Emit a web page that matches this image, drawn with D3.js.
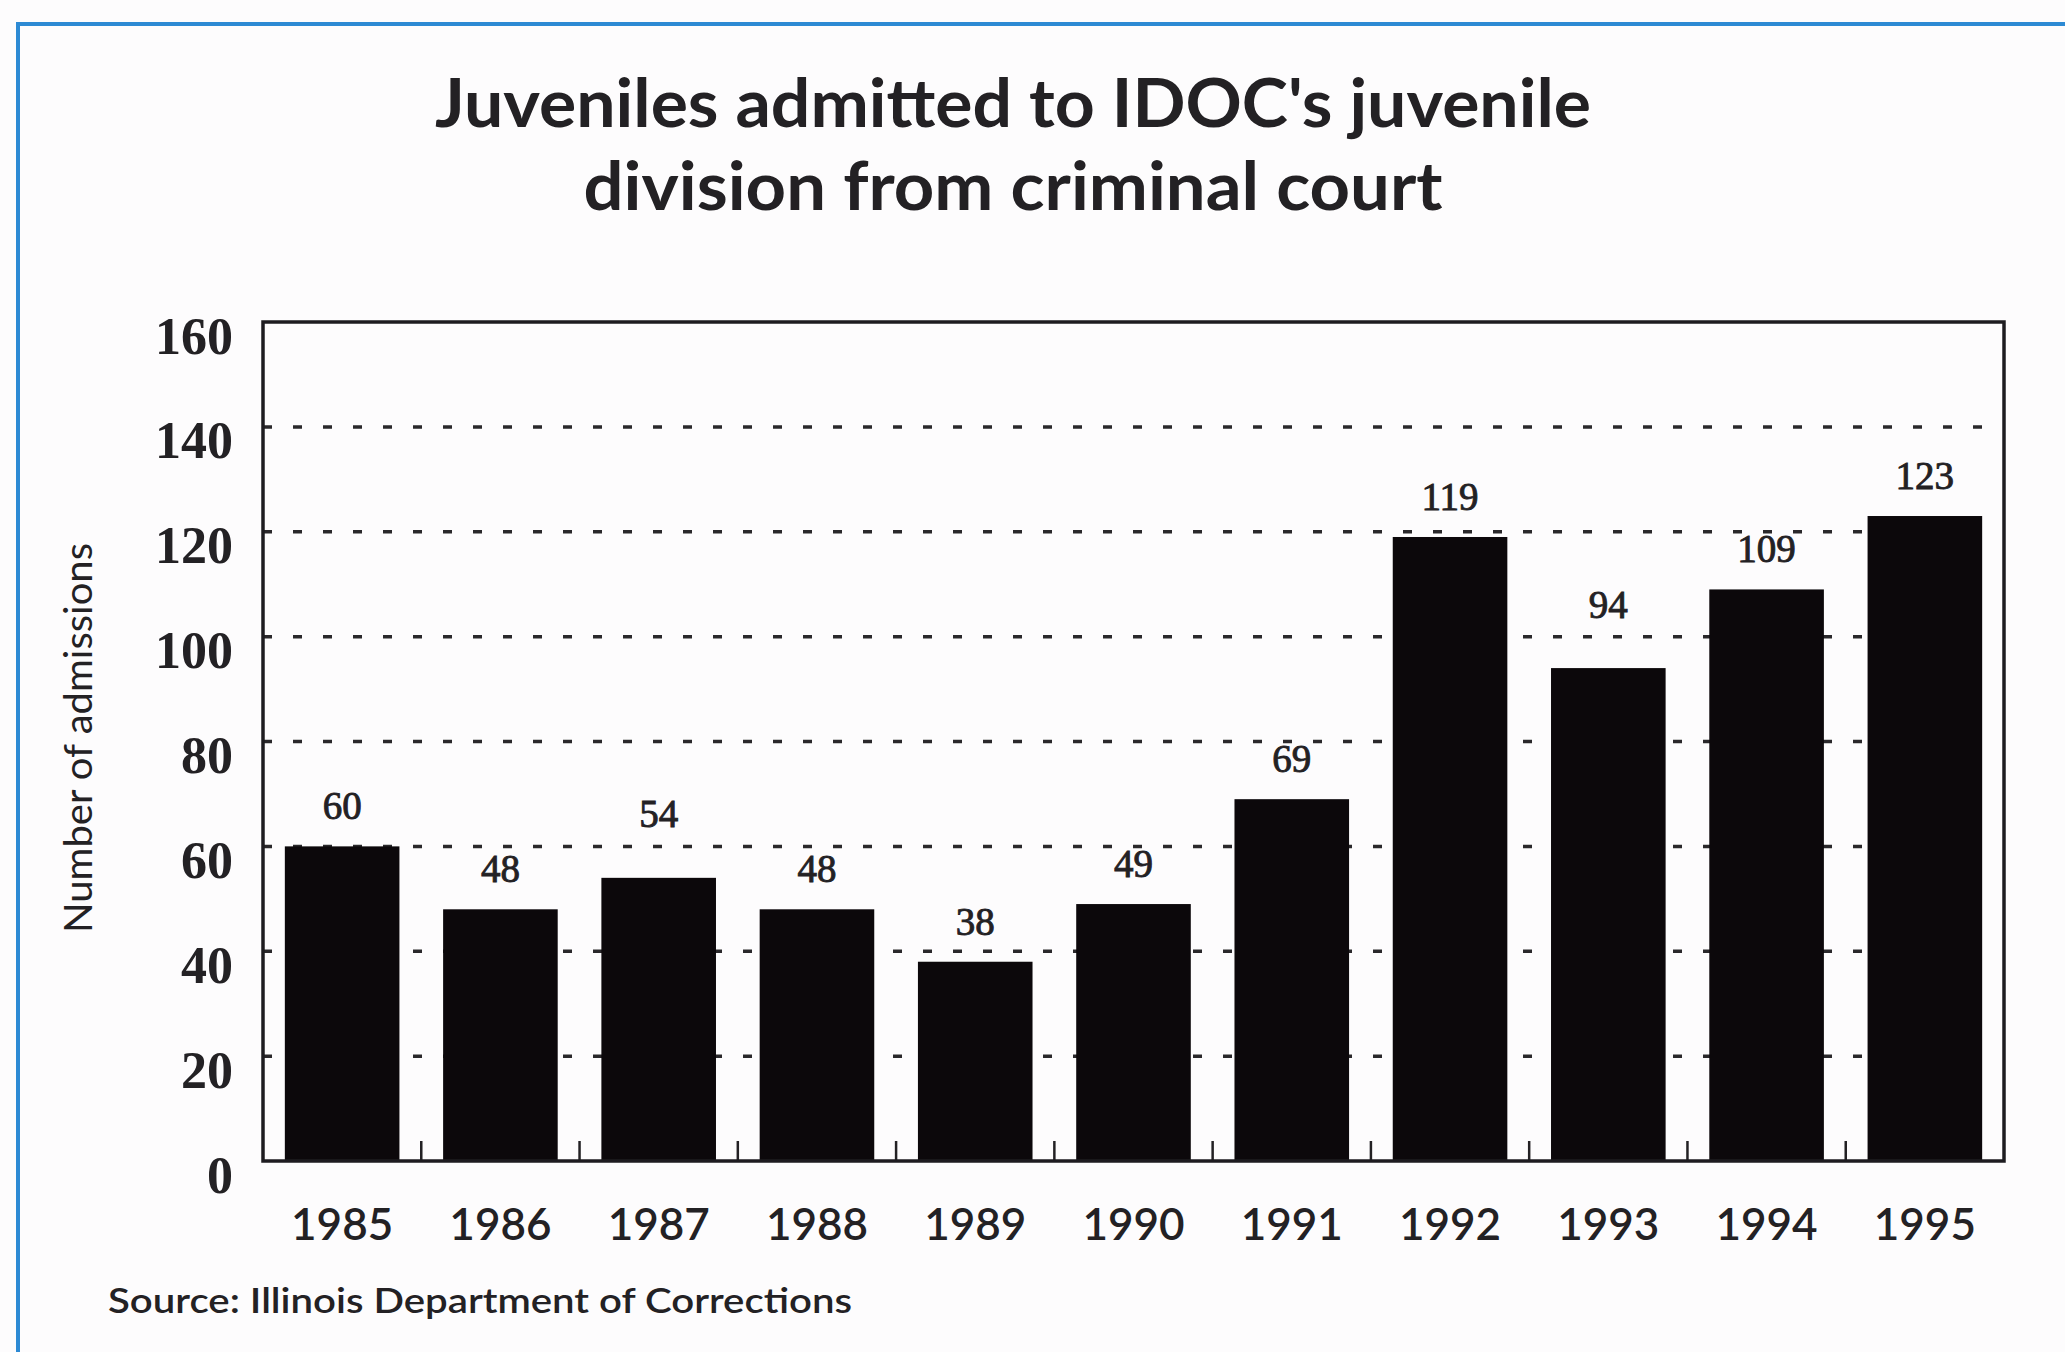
<!DOCTYPE html>
<html>
<head>
<meta charset="utf-8">
<script src="https://cdn.jsdelivr.net/npm/d3@7"></script>
<style>
  html, body { margin: 0; padding: 0; background: #fdfcfd; }
  svg { display: block; }
</style>
</head>
<body>
<svg id="chart" width="2065" height="1352"></svg>
<script>
// Juvenile admissions from criminal court, by year
const years = ["1985", "1986", "1987", "1988", "1989", "1990", "1991", "1992", "1993", "1994", "1995"];
const admissions = [60, 48, 54, 48, 38, 49, 69, 119, 94, 109, 123];
const yTicks = [0, 20, 40, 60, 80, 100, 120, 140, 160];
const gridValues = [20, 40, 60, 80, 100, 120, 140];
const titleLines = ["Juveniles admitted to IDOC's juvenile", "division from criminal court"];
const yTitle = "Number of admissions";
const sourceNote = "Source: Illinois Department of Corrections";

const W = 2065, H = 1352;
const plot = { left: 263, right: 2004, top: 322, bottom: 1161 };
const ink = "#232124";
const sans = "'Lato', 'Open Sans', sans-serif";
const serif = "'Liberation Serif', 'Times New Roman', serif";

const svg = d3.select("#chart");

svg.append("rect").attr("width", W).attr("height", H).attr("fill", "#fdfcfd");

// blue page frame (top and left edges)
svg.append("path")
  .attr("d", `M18,${H} L18,24 L${W},24`)
  .attr("fill", "none")
  .attr("stroke", "#2d8ad4")
  .attr("stroke-width", 4);

// title
svg.append("g")
  .selectAll("text")
  .data(titleLines)
  .join("text")
  .attr("x", 1013)
  .attr("y", (d, i) => 127 + i * 83)
  .attr("text-anchor", "middle")
  .attr("font-family", sans)
  .attr("font-weight", 700)
  .attr("font-size", 66)
  .attr("fill", ink)
  .attr("textLength", (d, i) => [1156, 859][i])
  .attr("lengthAdjust", "spacingAndGlyphs")
  .text(d => d);

const x = d3.scaleBand()
  .domain(years)
  .range([plot.left, plot.right])
  .paddingInner(0.276)
  .paddingOuter(0.138);

const y = d3.scaleLinear()
  .domain([0, 160])
  .range([plot.bottom, plot.top]);

// dashed gridlines
svg.append("g")
  .selectAll("line")
  .data(gridValues)
  .join("line")
  .attr("x1", plot.left)
  .attr("x2", plot.right - 16)
  .attr("y1", d => y(d))
  .attr("y2", d => y(d))
  .attr("stroke", "#2a282b")
  .attr("stroke-width", 3.5)
  .attr("stroke-dasharray", "9 21");

// bars
svg.append("g")
  .selectAll("rect")
  .data(admissions)
  .join("rect")
  .attr("x", (d, i) => x(years[i]))
  .attr("y", d => y(d))
  .attr("width", x.bandwidth())
  .attr("height", d => y(0) - y(d))
  .attr("fill", "#0c080b");

// value labels sit above each bar; a label that would sit on a gridline
// is lifted clear above that line
const labelGap = 27, labelHeight = 27;
function labelBaseline(v) {
  let base = y(v) - labelGap;
  for (const g of gridValues) {
    const gy = y(g);
    if (gy > base - labelHeight && gy < base + 3) base = gy - 19;
  }
  return base;
}
svg.append("g")
  .selectAll("text")
  .data(admissions)
  .join("text")
  .attr("x", (d, i) => x(years[i]) + x.bandwidth() / 2)
  .attr("y", d => labelBaseline(d))
  .attr("text-anchor", "middle")
  .attr("font-family", serif)
  .attr("font-size", 39)
  .attr("fill", ink)
  .attr("stroke", ink)
  .attr("stroke-width", 0.9)
  .text(d => d);

// small ticks between the year bands
const step = x.step();
svg.append("g")
  .selectAll("line")
  .data(d3.range(1, years.length))
  .join("line")
  .attr("x1", i => plot.left + i * step)
  .attr("x2", i => plot.left + i * step)
  .attr("y1", plot.bottom)
  .attr("y2", plot.bottom - 20)
  .attr("stroke", ink)
  .attr("stroke-width", 2.5);

// plot frame
svg.append("rect")
  .attr("x", plot.left)
  .attr("y", plot.top)
  .attr("width", plot.right - plot.left)
  .attr("height", plot.bottom - plot.top)
  .attr("fill", "none")
  .attr("stroke", "#1e1c20")
  .attr("stroke-width", 3.5);

// y axis labels
const yAxis = svg.append("g")
  .attr("transform", `translate(${plot.left},0)`)
  .call(d3.axisLeft(y).tickValues(yTicks).tickSize(0).tickPadding(30));
yAxis.select(".domain").remove();
yAxis.selectAll("text")
  .attr("dy", 31)
  .attr("font-family", serif)
  .attr("font-weight", 700)
  .attr("font-size", 52)
  .attr("fill", ink);

// x axis labels
const xAxis = svg.append("g")
  .attr("transform", `translate(0,${plot.bottom})`)
  .call(d3.axisBottom(x).tickSize(0));
xAxis.select(".domain").remove();
xAxis.selectAll("text")
  .attr("y", 79)
  .attr("dy", 0)
  .attr("font-family", sans)
  .attr("font-weight", 600)
  .attr("font-size", 44)
  .attr("fill", ink);

// y axis title
svg.append("text")
  .attr("transform", "translate(92,738) rotate(-90)")
  .attr("text-anchor", "middle")
  .attr("font-family", sans)
  .attr("font-size", 38)
  .attr("fill", ink)
  .attr("textLength", 390)
  .attr("lengthAdjust", "spacingAndGlyphs")
  .text(yTitle);

// source note
svg.append("text")
  .attr("x", 108)
  .attr("y", 1313)
  .attr("font-family", sans)
  .attr("font-weight", 600)
  .attr("font-size", 35)
  .attr("fill", ink)
  .attr("textLength", 744)
  .attr("lengthAdjust", "spacingAndGlyphs")
  .text(sourceNote);
</script>
</body>
</html>
